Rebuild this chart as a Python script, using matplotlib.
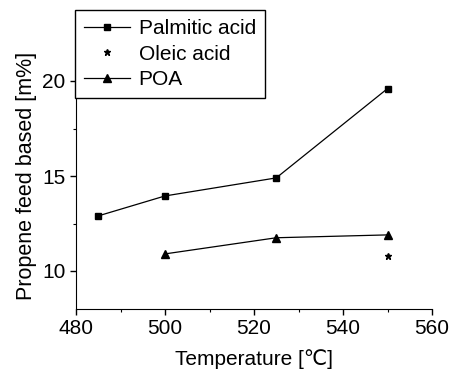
import matplotlib
matplotlib.rcParams['font.family'] = ['Liberation Sans', 'DejaVu Sans']
matplotlib.rcParams['font.size'] = 15
import matplotlib.pyplot as plt
from matplotlib.ticker import MultipleLocator
plt.switch_backend('agg')

palm_t = [485, 500, 525, 550]
palm_y = [12.9, 13.95, 14.9, 19.6]
oleic_t = [550]
oleic_y = [10.8]
poa_t = [500, 525, 550]
poa_y = [10.9, 11.75, 11.9]

fig = plt.figure(figsize=(4.52, 3.70), dpi=100)
ax = fig.add_axes([76/452, 1-309/370, (432-76)/452, (309-43)/370])
ax.plot(palm_t, palm_y, color='black', linewidth=0.9, marker='s', markersize=5, label='Palmitic acid')
ax.plot(oleic_t, oleic_y, color='black', linestyle='none', marker='*', markersize=5, label='Oleic acid')
ax.plot(poa_t, poa_y, color='black', linewidth=0.9, marker='^', markersize=6, label='POA')

ax.set_xlim(480, 560)
ax.set_ylim(8, 22)
ax.xaxis.set_major_locator(MultipleLocator(20))
ax.xaxis.set_minor_locator(MultipleLocator(10))
ax.yaxis.set_major_locator(MultipleLocator(5))
ax.yaxis.set_minor_locator(MultipleLocator(2.5))
ax.spines['top'].set_visible(False)
ax.spines['right'].set_visible(False)
ax.tick_params(which='major', length=4, width=1)
ax.tick_params(which='minor', length=2, width=0.8)
ax.set_xlabel('Temperature [\u2103]', labelpad=8)
ax.set_ylabel('Propene feed based [m%]', labelpad=4, fontsize=15.5)

leg = fig.legend(loc='upper left', bbox_to_anchor=(75/452, 1-10/370), frameon=True, fancybox=False,
                 edgecolor='black', framealpha=1, handlelength=2.2, handletextpad=0.4,
                 borderpad=0.45, labelspacing=0.3, borderaxespad=0, fontsize=15)
leg.get_frame().set_linewidth(1)

plt.savefig('out.png', dpi=100)
plt.close()
